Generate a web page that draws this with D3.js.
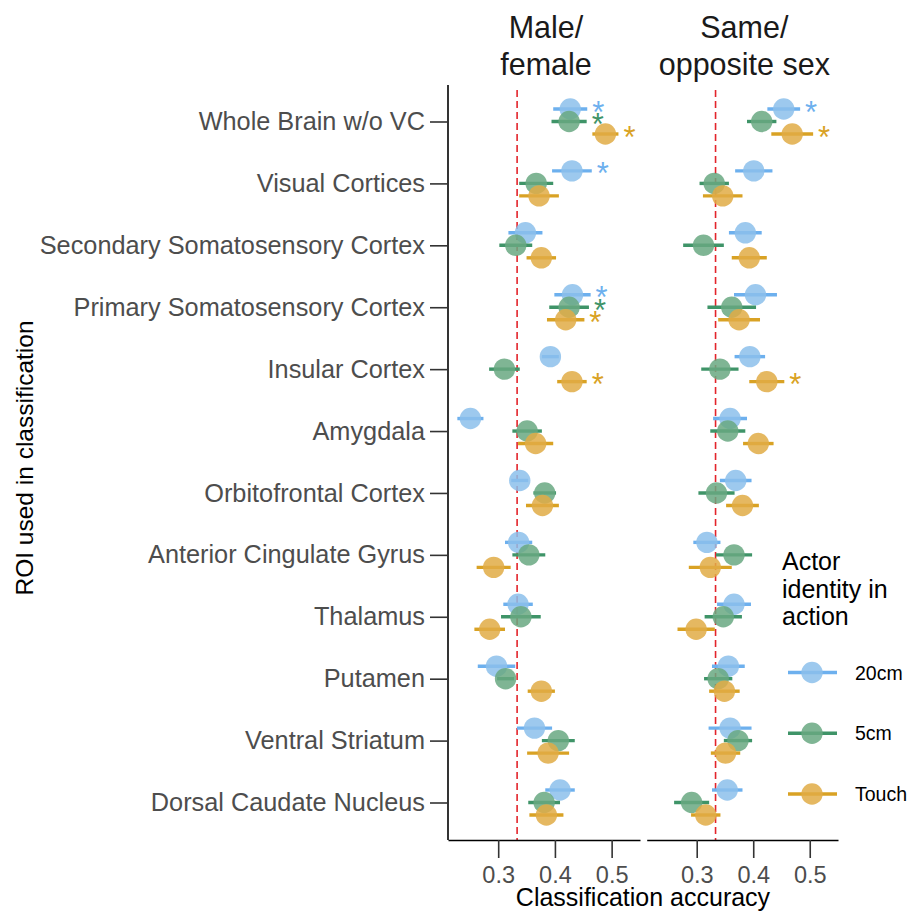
<!DOCTYPE html>
<html>
<head>
<meta charset="utf-8">
<script src="https://cdn.jsdelivr.net/npm/d3@7"></script>
<style>
  html, body { margin: 0; padding: 0; background: #fff; }
  svg { display: block; font-family: "Liberation Sans", Arial, Helvetica, sans-serif; }
</style>
</head>
<body>
<svg id="chart" width="909" height="912"></svg>
<script>
// ---------- DATA ----------
const categories = [
  "Whole Brain w/o VC", "Visual Cortices", "Secondary Somatosensory Cortex",
  "Primary Somatosensory Cortex", "Insular Cortex", "Amygdala",
  "Orbitofrontal Cortex", "Anterior Cingulate Gyrus", "Thalamus",
  "Putamen", "Ventral Striatum", "Dorsal Caudate Nucleus"
];
const seriesNames = ["20cm", "5cm", "Touch"];
const panelTitles = [["Male/", "female"], ["Same/", "opposite sex"]];
const xTicks = [0.3, 0.4, 0.5];
const chanceLevel = 1 / 3;

// Male/female
const mf20 = [0.427, 0.430, 0.348, 0.431, 0.392, 0.251, 0.338, 0.336, 0.335, 0.297, 0.364, 0.409];
const mf20Err = [0.030, 0.035, 0.030, 0.032, 0.015, 0.023, 0.015, 0.024, 0.026, 0.033, 0.031, 0.026];
const mf5 = [0.425, 0.367, 0.331, 0.425, 0.311, 0.351, 0.382, 0.354, 0.340, 0.313, 0.406, 0.381];
const mf5Err = [0.031, 0.030, 0.029, 0.035, 0.027, 0.026, 0.020, 0.029, 0.035, 0.015, 0.029, 0.028];
const mfTouch = [0.489, 0.372, 0.376, 0.419, 0.430, 0.366, 0.378, 0.292, 0.285, 0.376, 0.388, 0.385];
const mfTouchErr = [0.023, 0.035, 0.026, 0.033, 0.026, 0.031, 0.029, 0.030, 0.027, 0.024, 0.037, 0.030];
const mf20Sig = [1, 1, 0, 1, 0, 0, 0, 0, 0, 0, 0, 0];
const mf5Sig = [1, 0, 0, 1, 0, 0, 0, 0, 0, 0, 0, 0];
const mfTouchSig = [1, 0, 0, 1, 1, 0, 0, 0, 0, 0, 0, 0];

// Same/opposite sex
const so20 = [0.454, 0.401, 0.386, 0.404, 0.394, 0.359, 0.369, 0.318, 0.366, 0.356, 0.359, 0.354];
const so20Err = [0.029, 0.033, 0.029, 0.038, 0.027, 0.030, 0.028, 0.024, 0.030, 0.029, 0.038, 0.027];
const so5 = [0.415, 0.331, 0.312, 0.362, 0.341, 0.355, 0.335, 0.366, 0.347, 0.338, 0.373, 0.291];
const so5Err = [0.026, 0.026, 0.036, 0.043, 0.033, 0.031, 0.032, 0.032, 0.033, 0.025, 0.025, 0.031];
const soTouch = [0.469, 0.346, 0.393, 0.375, 0.424, 0.409, 0.381, 0.324, 0.299, 0.349, 0.351, 0.316];
const soTouchErr = [0.037, 0.035, 0.031, 0.037, 0.031, 0.027, 0.029, 0.038, 0.033, 0.027, 0.026, 0.026];
const so20Sig = [1, 0, 0, 0, 0, 0, 0, 0, 0, 0, 0, 0];
const so5Sig = [0, 0, 0, 0, 0, 0, 0, 0, 0, 0, 0, 0];
const soTouchSig = [1, 0, 0, 0, 1, 0, 0, 0, 0, 0, 0, 0];

// ---------- BUILD ----------
const panels = [
  { title: panelTitles[0], series: [[mf20, mf20Err, mf20Sig], [mf5, mf5Err, mf5Sig], [mfTouch, mfTouchErr, mfTouchSig]] },
  { title: panelTitles[1], series: [[so20, so20Err, so20Sig], [so5, so5Err, so5Sig], [soTouch, soTouchErr, soTouchSig]] }
];

const pointColors = ["#8cbfeb", "#68a881", "#e0ab45"];
const lineColors = ["#6db0ee", "#3f9468", "#d9a224"];
const textGray = "#4d4d4d";

const svg = d3.select("#chart");
const plotTop = 85, plotBottom = 840;
const panelX = [[448, 640], [646.7, 838]];
const xDomain = [0.2115, 0.55];

const y = d3.scalePoint().domain(categories).range([plotTop + 36.5, plotBottom - 37.5]);
const offset = d3.scalePoint().domain(seriesNames).range([-12.5, 12.5]);

panels.forEach((p, pi) => {
  const x = d3.scaleLinear().domain(xDomain).range(panelX[pi]);
  const g = svg.append("g");

  // chance line
  g.append("line")
    .attr("x1", x(chanceLevel)).attr("x2", x(chanceLevel))
    .attr("y1", plotTop + 5).attr("y2", plotBottom)
    .attr("stroke", "#e3242b").attr("stroke-width", 1.6)
    .attr("stroke-dasharray", "7,4");

  // bottom axis
  const xa = g.append("g").attr("transform", `translate(0,${plotBottom})`)
    .call(d3.axisBottom(x).tickValues(xTicks).tickFormat(d3.format(".1f")).tickSize(18).tickSizeOuter(0).tickPadding(8));
  xa.select(".domain").attr("stroke", "#000").attr("stroke-width", 1.6);
  xa.selectAll(".tick line").attr("stroke", "#333").attr("stroke-width", 1.6);
  xa.selectAll(".tick text").attr("font-size", 23.5).attr("fill", textGray)
    .attr("font-family", "Liberation Sans, Arial, sans-serif");

  if (pi === 0) {
    const ya = g.append("g").attr("transform", `translate(${panelX[0][0]},0)`)
      .call(d3.axisLeft(y).tickSize(18).tickSizeOuter(0).tickPadding(5));
    ya.select(".domain").attr("stroke", "#000").attr("stroke-width", 1.6)
      .attr("d", `M0,${plotTop}V${plotBottom}`);
    ya.selectAll(".tick line").attr("stroke", "#333").attr("stroke-width", 1.6);
    ya.selectAll(".tick text").attr("font-size", 25.3).attr("fill", textGray)
      .attr("font-family", "Liberation Sans, Arial, sans-serif");
  }

  // title
  const cx = (panelX[pi][0] + panelX[pi][1]) / 2 + 2;
  g.append("text").attr("x", cx).attr("y", 38).attr("text-anchor", "middle")
    .attr("font-size", 30.5).attr("fill", "#1a1a1a").text(p.title[0]);
  g.append("text").attr("x", cx).attr("y", 75).attr("text-anchor", "middle")
    .attr("font-size", 30.5).attr("fill", "#1a1a1a").text(p.title[1]);

  // points
  p.series.forEach((s, si) => {
    const [vals, errs, sig] = s;
    const name = seriesNames[si];
    categories.forEach((c, ci) => {
      const cy = y(c) + offset(name);
      g.append("line")
        .attr("x1", x(vals[ci] - errs[ci])).attr("x2", x(vals[ci] + errs[ci]))
        .attr("y1", cy).attr("y2", cy)
        .attr("stroke", lineColors[si]).attr("stroke-width", 3.4);
      g.append("circle")
        .attr("cx", x(vals[ci])).attr("cy", cy).attr("r", 10.7)
        .attr("fill", pointColors[si]).attr("fill-opacity", 0.85);
      if (sig[ci]) {
        g.append("text")
          .attr("x", x(vals[ci] + errs[ci]) + 11).attr("y", cy + 13.5)
          .attr("text-anchor", "middle")
          .attr("font-size", 31).attr("fill", lineColors[si]).text("*");
      }
    });
  });
});

// axis titles
svg.append("text").attr("x", 643).attr("y", 906).attr("text-anchor", "middle")
  .attr("font-size", 25).attr("fill", "#000").text("Classification accuracy");
svg.append("text").attr("transform", `translate(33,458) rotate(-90)`).attr("text-anchor", "middle")
  .attr("font-size", 24.5).attr("fill", "#000").text("ROI used in classification");

// legend
const lg = svg.append("g");
["Actor", "identity in", "action"].forEach((t, i) => {
  lg.append("text").attr("x", 782).attr("y", 570 + i * 27.5)
    .attr("font-size", 25).attr("fill", "#000").text(t);
});
const ly = d3.scalePoint().domain(seriesNames).range([672.5, 794]);
seriesNames.forEach((n, si) => {
  lg.append("line").attr("x1", 788).attr("x2", 837)
    .attr("y1", ly(n)).attr("y2", ly(n))
    .attr("stroke", lineColors[si]).attr("stroke-width", 3.4);
  lg.append("circle").attr("cx", 812).attr("cy", ly(n)).attr("r", 10.7)
    .attr("fill", pointColors[si]).attr("fill-opacity", 0.85);
  lg.append("text").attr("x", 855).attr("y", ly(n) + 7)
    .attr("font-size", 19.5).attr("fill", "#000").text(n);
});
</script>
</body>
</html>
